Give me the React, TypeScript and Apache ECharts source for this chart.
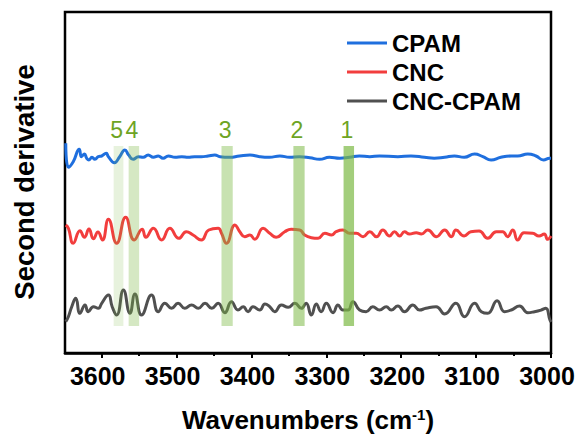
import React, { useEffect, useRef } from "react";
import * as echarts from "echarts";

// Wavenumber (cm-1) / second-derivative value pairs (arbitrary units, offset per trace)
const cpam: [number, number][] = [
  [3648, 209.7], [3644.5, 185.7], [3638, 191.3], [3630, 203.7], [3627, 196.3], [3623, 199], [3620, 194.7],
  [3617, 193], [3613, 195.7], [3609, 193.7], [3604.5, 196.3], [3600, 197], [3594, 199.7], [3591, 196.3],
  [3583, 190.3], [3576, 196.3], [3569, 203], [3564, 198], [3558, 193.7], [3551, 196.3], [3544.5, 195.7],
  [3538, 198], [3531, 195.7], [3524.5, 197], [3518, 194.7], [3511, 197], [3502, 195.7], [3493, 196.3],
  [3484.5, 195.7], [3476, 196.3], [3467, 196.3], [3458, 197], [3449, 198], [3442, 196.3], [3429, 195.7],
  [3416, 197], [3402, 198], [3389, 196.3], [3376, 195.7], [3362, 197], [3349, 195.7], [3336, 196.3],
  [3322, 195.3], [3309, 193.7], [3296, 195.7], [3282, 194.7], [3269, 195.7], [3256, 197], [3242, 196.3],
  [3229, 197], [3204.5, 196.3], [3187, 197], [3169, 195.7], [3156, 194.7], [3142, 195.7], [3129, 197],
  [3116, 195.7], [3102, 199], [3091, 196.3], [3080, 193], [3067, 195.7], [3053, 197], [3044.5, 197],
  [3031, 199], [3020, 197], [3010, 193], [3002, 194.7], [3000, 194.7],
];

const cnc: [number, number][] = [
  [3648, 128], [3644.5, 124.7], [3638, 109.7], [3629, 122.3], [3623, 115.7], [3617, 124], [3611, 114.3],
  [3605, 121], [3599, 113], [3591, 133.7], [3580, 109.7], [3568, 135.7], [3556.5, 113], [3546, 123.7],
  [3541, 115.7], [3531, 124.7], [3520, 113], [3509, 124.7], [3497, 114.7], [3487, 121.3], [3478, 118],
  [3467, 113], [3457, 123], [3444.5, 124.7], [3440, 119.7], [3433.4, 109.7], [3422, 128], [3415.6, 121.3],
  [3409, 116.3], [3402, 118], [3395.6, 113.7], [3384.5, 124.7], [3375.6, 119.7], [3367, 115.7],
  [3355.6, 121.3], [3347, 123.7], [3335.6, 123], [3329, 118], [3320, 115.3], [3311, 114.7], [3302, 119.7],
  [3293, 118], [3287, 121.3], [3278, 123], [3269, 119.7], [3260, 119.7], [3251, 116.3], [3242, 121.3],
  [3233, 116.3], [3224.5, 123], [3215.6, 117], [3209, 121.3], [3202, 117], [3195.6, 121.3], [3189, 119],
  [3180, 120.3], [3173, 119], [3164.5, 123], [3153, 116.3], [3142, 123], [3133, 116.3], [3127, 123],
  [3116, 117], [3107, 121.3], [3096, 122], [3084.5, 114.7], [3073, 121.3], [3064.5, 121.3], [3058, 116.3],
  [3051, 123], [3044.5, 113], [3036, 120.3], [3024.5, 119.7], [3016, 117], [3009, 119], [3004.5, 113.7],
  [3000, 117],
];

const cncCpam: [number, number][] = [
  [3648, 31.3], [3644.5, 36.3], [3640, 46.3], [3634.7, 54.7], [3629, 39.7], [3622.3, 48], [3618, 41.3],
  [3611, 46.3], [3604.5, 44.7], [3600, 49.7], [3591, 58], [3586, 46.3], [3580, 38], [3571, 63],
  [3562.3, 39.7], [3555.6, 59], [3546.8, 38], [3533.4, 58], [3524.5, 41.3], [3515.6, 49.7], [3506.8, 44.7],
  [3498, 49.7], [3489, 44.7], [3480, 48], [3471, 44.7], [3462, 49.7], [3453, 44.7], [3444.5, 49.7],
  [3435.6, 40.3], [3426.7, 51.3], [3418, 43], [3411, 46.3], [3404.5, 41.3], [3398, 46.3], [3389, 43],
  [3382, 49], [3375.6, 46.3], [3369, 41.3], [3360, 48], [3351, 45.7], [3342, 49.7], [3333.4, 44.7],
  [3327, 49.7], [3320, 38], [3313.4, 49], [3307, 41.3], [3300, 49.7], [3291, 40.3], [3284.5, 48],
  [3278, 43], [3271, 43], [3264.5, 51.3], [3255.6, 43], [3247, 41.3], [3238, 46.3], [3229, 43],
  [3220, 46.3], [3213.4, 43], [3204.5, 47], [3195.6, 41.3], [3184.5, 48], [3175.6, 43], [3167, 44.7],
  [3153.4, 46.3], [3142, 39], [3127, 49.7], [3115.6, 36.3], [3102, 49.7], [3093, 41.3], [3084.5, 39.7],
  [3072, 52.3], [3062, 41.3], [3053, 43], [3042, 47], [3031, 40.3], [3022, 41.3], [3013, 43],
  [3007, 44.7], [3001.4, 33], [3000, 31],
];

const seriesNames = ["CPAM", "CNC", "CNC-CPAM"];

// Highlighted bands (cm-1)
const bandStart = [3584, 3564, 3440, 3344, 3277];
const bandEnd = [3571, 3550, 3425, 3329, 3263];
const bandLabels = ["5", "4", "3", "2", "1"];

const majorTicks = [3000, 3100, 3200, 3300, 3400, 3500, 3600];
const minorTicks = [3050, 3150, 3250, 3350, 3450, 3550];

export default function App() {
  const ref = useRef<HTMLDivElement>(null);

  useEffect(() => {
    if (!ref.current) return;
    const chart = echarts.init(ref.current, null, { renderer: "svg" });
    const font = "'Liberation Sans', Arial, sans-serif";
    const colors = ["#1f6fde", "#f23d3d", "#505050"];
    const bandOpacity = [0.18, 0.32, 0.42, 0.54, 0.7];
    const bandColor = "#7cb944";
    const bandLow = 27;
    const bandHigh = 207;
    const xMax = 3649;

    const xCommon = {
      type: "value" as const,
      min: 3000,
      max: xMax,
      inverse: true,
      splitLine: { show: false },
    };

    chart.setOption({
      animation: false,
      grid: {
        left: 65,
        right: 28,
        top: 12,
        bottom: 81,
        show: true,
        borderColor: "#000",
        borderWidth: 2.5,
      },
      legend: {
        orient: "vertical",
        left: 347,
        top: 31,
        padding: 0,
        itemWidth: 40,
        itemHeight: 3,
        itemGap: 5,
        itemTextGap: 6,
        icon: "rect",
        data: seriesNames,
        textStyle: { fontFamily: font, fontWeight: "bold", fontSize: 24, color: "#000" },
      },
      xAxis: [
        {
          ...xCommon,
          position: "bottom",
          axisLine: { show: true, lineStyle: { color: "#000", width: 2.5 } },
          axisTick: {
            show: true,
            length: 5,
            customValues: majorTicks,
            lineStyle: { color: "#000", width: 2 },
          },
          axisLabel: {
            customValues: majorTicks,
            formatter: (v: number) => "{b|" + String(v) + "}",
            margin: 10,
            fontFamily: font,
            fontWeight: "bold",
            fontSize: 25,
            color: "#000",
            rich: {
              b: {
                fontFamily: font,
                fontWeight: "bold",
                fontSize: 25,
                color: "#000",
                padding: [0, 8, 0, 0],
              },
            },
          },
        },
        {
          ...xCommon,
          position: "bottom",
          axisLine: { show: false },
          axisTick: {
            show: true,
            length: 3,
            customValues: minorTicks,
            lineStyle: { color: "#000", width: 2 },
          },
          axisLabel: { show: false },
        },
      ],
      yAxis: {
        type: "value",
        min: 0,
        max: 341,
        show: false,
      },
      series: [
        ...[cpam, cnc, cncCpam].map((d, i) => ({
          name: seriesNames[i],
          type: "line",
          data: d,
          smooth: 0.5,
          symbol: "none",
          color: colors[i],
          lineStyle: { width: 3, color: colors[i] },
          z: 2,
        })),
        {
          type: "custom",
          z: 10,
          silent: true,
          data: bandStart.map((s, i) => [s, bandEnd[i], i]),
          encode: { x: [0, 1] },
          renderItem: (params: any, api: any) => {
            const i = api.value(2);
            const p0 = api.coord([api.value(0), bandLow]);
            const p1 = api.coord([api.value(1), bandHigh]);
            const x = Math.min(p0[0], p1[0]);
            const w = Math.abs(p1[0] - p0[0]);
            const yTop = Math.min(p0[1], p1[1]);
            const h = Math.abs(p1[1] - p0[1]);
            return {
              type: "group",
              children: [
                {
                  type: "rect",
                  shape: { x, y: yTop, width: w, height: h },
                  style: { fill: bandColor, opacity: bandOpacity[i] },
                },
                {
                  type: "text",
                  style: {
                    text: bandLabels[i],
                    x: x + w / 2 - 2,
                    y: yTop - 16,
                    align: "center",
                    verticalAlign: "middle",
                    fontFamily: font,
                    fontSize: 23,
                    fill: "#6ea424",
                  },
                },
              ],
            };
          },
        },
      ],
      graphic: [
        {
          type: "text",
          x: 308,
          y: 420,
          style: {
            text: "Wavenumbers (cm{sup|-1})",
            rich: {
              sup: { fontSize: 15, fontWeight: "bold", fontFamily: font, verticalAlign: "top", padding: [0, 0, 10, 0] },
            },
            align: "center",
            verticalAlign: "middle",
            fontFamily: font,
            fontWeight: "bold",
            fontSize: 26,
            fill: "#000",
          },
        },
        {
          type: "text",
          x: 24,
          y: 182,
          rotation: Math.PI / 2,
          style: {
            text: "Second derivative",
            align: "center",
            verticalAlign: "middle",
            fontFamily: font,
            fontWeight: "bold",
            fontSize: 27.5,
            fill: "#000",
          },
        },
      ],
    });
    return () => chart.dispose();
  }, []);

  return (
    <div
      ref={ref}
      style={{ position: "fixed", left: 0, top: 0, width: 579, height: 434, background: "#fff" }}
    />
  );
}
